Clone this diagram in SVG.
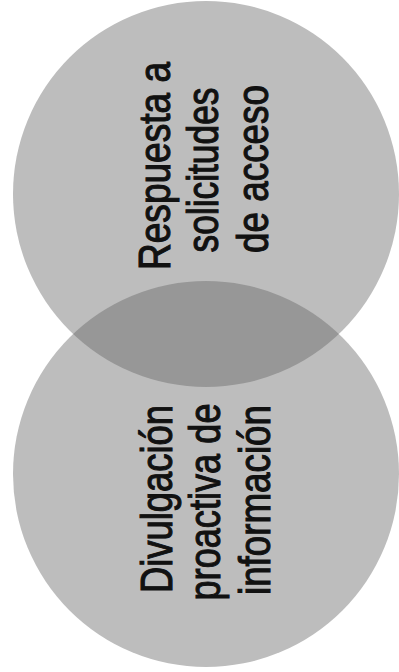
<svg xmlns="http://www.w3.org/2000/svg" width="399" height="672" viewBox="0 0 399 672">
  <style>
    .circle { fill: #bdbdbd; stroke: none; }
    .lens { fill: #979797; }
    .label { font-family: "Liberation Sans", Arial, sans-serif; font-size: 45px; fill: #111; stroke: #111; stroke-width: 1.1px; text-anchor: middle; }
  </style>
  <defs>
    <clipPath id="clipTop">
      <circle cx="206" cy="194" r="193"/>
    </clipPath>
  </defs>
  <rect width="399" height="672" fill="#ffffff"/>
  <g id="node-respuesta">
    <circle class="circle" cx="206" cy="194" r="193"/>
  </g>
  <g id="node-divulgacion">
    <circle class="circle" cx="206" cy="474" r="193"/>
  </g>
  <g id="overlap">
    <circle class="lens" cx="206" cy="474" r="193" clip-path="url(#clipTop)"/>
  </g>
  <g id="labels-respuesta">
    <text class="label" transform="translate(170,166) rotate(-90)" textLength="208" lengthAdjust="spacingAndGlyphs">Respuesta a</text>
    <text class="label" transform="translate(218,170) rotate(-90)" textLength="165" lengthAdjust="spacingAndGlyphs">solicitudes</text>
    <text class="label" transform="translate(268,169) rotate(-90)" textLength="168" lengthAdjust="spacingAndGlyphs">de acceso</text>
  </g>
  <g id="labels-divulgacion">
    <text class="label" transform="translate(172,499) rotate(-90)" textLength="188" lengthAdjust="spacingAndGlyphs">Divulgación</text>
    <text class="label" transform="translate(220,502) rotate(-90)" textLength="197" lengthAdjust="spacingAndGlyphs">proactiva de</text>
    <text class="label" transform="translate(270,500) rotate(-90)" textLength="190" lengthAdjust="spacingAndGlyphs">información</text>
  </g>
  <g id="connectors"></g>
</svg>
